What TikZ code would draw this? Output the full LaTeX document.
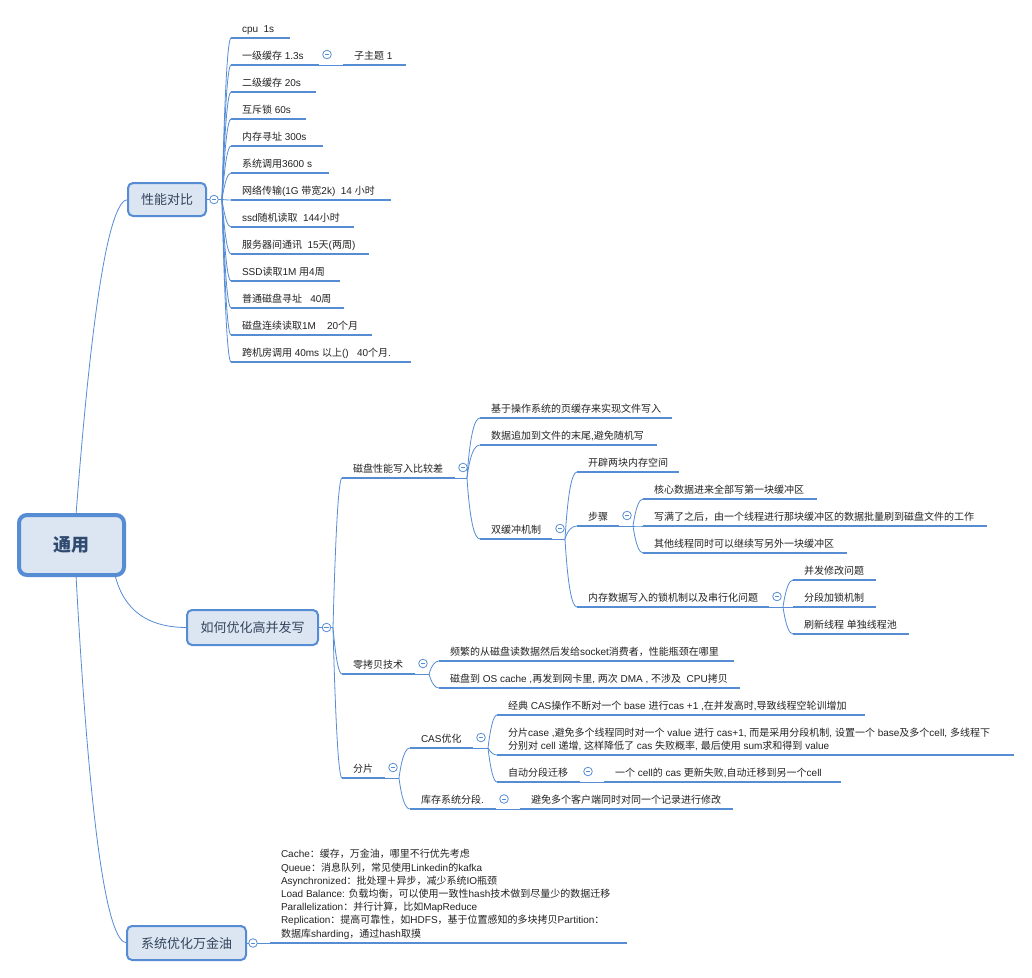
\documentclass[tikz,border=0pt]{standalone}
\usepackage{fontspec}
\setmainfont{Liberation Sans}
\newfontfamily\cjkfont{Noto Sans CJK SC}
\newfontfamily\latfont{Liberation Sans}
\XeTeXinterchartokenstate=1
\newXeTeXintercharclass\cjkcls
\count255="3000
\loop\XeTeXcharclass\count255=\cjkcls \advance\count255 by 1 \ifnum\count255<"3040 \repeat
\count255="4E00
\loop\XeTeXcharclass\count255=\cjkcls \advance\count255 by 1 \ifnum\count255<"A000 \repeat
\count255="FF00
\loop\XeTeXcharclass\count255=\cjkcls \advance\count255 by 1 \ifnum\count255<"FFF0 \repeat
\XeTeXinterchartoks 0 \cjkcls = {\cjkfont}
\XeTeXinterchartoks 4095 \cjkcls = {\cjkfont}
\XeTeXinterchartoks \cjkcls 0 = {\latfont}
\XeTeXinterchartoks \cjkcls 4095 = {\latfont}
\usetikzlibrary{calc}
\definecolor{lc}{RGB}{86,140,212}
\definecolor{bf}{RGB}{220,230,242}
\definecolor{tc}{RGB}{35,35,35}
\definecolor{t1}{RGB}{52,68,92}
\definecolor{t0}{RGB}{47,75,112}
\tikzset{
  conn/.style={draw=lc, line width=0.8pt},
  uline/.style={draw=lc, line width=2.8pt},
  leaf/.style={anchor=south west, inner xsep=11pt, inner ysep=4pt, text height=8pt, text depth=2pt,
    font=\fontsize{10pt}{13pt}\selectfont, text=tc, outer sep=0pt},
  mainbox/.style={draw=lc, fill=bf, line width=2pt, rounded corners=5pt,
    font=\fontsize{13pt}{15pt}\selectfont, text=t1, inner sep=0pt, outer sep=0pt},
  rootbox/.style={draw=lc, fill=bf, line width=4pt, rounded corners=8pt,
    font=\fontsize{18pt}{20pt}\selectfont\bfseries, text=t0, inner sep=0pt, outer sep=0pt},
  fold/.style={circle, draw=lc, fill=white, line width=0.8pt, minimum size=8.6pt, inner sep=0pt,
    path picture={\draw[lc, line width=0.7pt] ([xshift=2.2pt]path picture bounding box.west) -- ([xshift=-2.2pt]path picture bounding box.east);}}
}
% leaf: name, x start, x end, y of underline, text
\newcommand\mmleaf[5]{%
  \node[leaf] (#1) at (#2,#4) {\makebox[\dimexpr #3pt-#2pt-22pt\relax][l]{#5}};
  \draw[uline] (#1.south west) -- (#1.south east);}
% curved connector from a hub coordinate to a child anchor
\newcommand\mmcurv[2]{%
  \coordinate (cc) at ($(#1 |- #2)+(4,0)$);
  \draw[conn] (#1) .. controls ($(#1)!0.667!(cc)$) and ($(#2)!0.667!(cc)$) .. (#2);}
% hub after an underlined parent
\newcommand\mmhub[2]{%
  \coordinate (#1H) at ($(#1.south east)+(#2,0)$);
  \draw[conn] (#1.south east) -- (#1H);
  \node[fold] (#1F) at ($(#1.south east)+(8,-10.5)$) {};}
\begin{document}
\begin{tikzpicture}[x=1pt,y=-1pt]
\useasboundingbox[fill=white] (0,0) rectangle (1032,977);

% ---------- root and main topics
\node[rootbox, minimum width=105pt, minimum height=60pt] (root) at (71.5,545) {通用};
\node[mainbox, minimum width=78pt, minimum height=33pt] (perf) at (167,199.5) {性能对比};
\node[mainbox, minimum width=131pt, minimum height=35pt] (hw) at (252.5,627.5) {如何优化高并发写};
\node[mainbox, minimum width=119pt, minimum height=34pt] (sys) at (186.5,943) {系统优化万金油};

\draw[conn] ([xshift=4.5pt]root.north) .. controls (92,305) and (109.3,199.5) .. (perf.west);
\draw[conn] ([xshift=43.5pt]root.south) .. controls (123.7,610.3) and (147.7,627.5) .. (hw.west);
\draw[conn] ([xshift=4.5pt]root.south) .. controls (89.3,820.3) and (106.3,943) .. (sys.west);

% ---------- 性能对比
\coordinate (perfH) at ($(perf.east)+(16,0)$);
\draw[conn] (perf.east) -- (perfH);
\mmleaf{p1}{231}{290}{38}{cpu\ \ 1s}
\mmleaf{p2}{231}{319}{65}{一级缓存 1.3s}
\mmleaf{p2c}{343}{406}{65}{子主题 1}
\mmleaf{p3}{231}{316}{92}{二级缓存 20s}
\mmleaf{p4}{231}{306}{119}{互斥锁 60s}
\mmleaf{p5}{231}{323}{146}{内存寻址 300s}
\mmleaf{p6}{231}{329}{173}{系统调用3600 s}
\mmleaf{p7}{231}{391}{200}{网络传输(1G 带宽2k)\ \ 14 小时}
\mmleaf{p8}{231}{354}{227}{ssd随机读取\ \ 144小时}
\mmleaf{p9}{231}{369}{254}{服务器间通讯\ \ 15天(两周)}
\mmleaf{p10}{231}{340}{281}{SSD读取1M 用4周}
\mmleaf{p11}{231}{344}{308}{普通磁盘寻址\ \ \ 40周}
\mmleaf{p12}{231}{372}{335}{磁盘连续读取1M\ \ \ \ 20个月}
\mmleaf{p13}{231}{411}{362}{跨机房调用 40ms 以上()\ \ \ 40个月.}
\foreach \c in {p1,p2,p3,p4,p5,p6,p7,p8,p9,p10,p11,p12,p13} {\mmcurv{perfH}{\c.south west}}
\node[fold] (perfF) at ($(perf.east)+(8,0)$) {};
\draw[conn] (p2.south east) -- (p2c.south west);
\node[fold] (p2F) at ($(p2.south east)+(8,-10.5)$) {};

% ---------- 如何优化高并发写
\coordinate (hwH) at ($(hw.east)+(15,0)$);
\draw[conn] (hw.east) -- (hwH);
\mmleaf{ds}{342}{455}{478}{磁盘性能写入比较差}
\mmleaf{zc}{342}{415}{674}{零拷贝技术}
\mmleaf{fp}{342}{385}{778}{分片}
\foreach \c in {ds,zc,fp} {\mmcurv{hwH}{\c.south west}}
\node[fold] (hwF) at ($(hw.east)+(8.5,0)$) {};

% 磁盘性能写入比较差
\mmleaf{a1}{480}{672}{418}{基于操作系统的页缓存来实现文件写入}
\mmleaf{a2}{480}{657}{445}{数据追加到文件的末尾,避免随机写}
\mmleaf{a3}{480}{552}{539}{双缓冲机制}
\mmhub{ds}{12}
\foreach \c in {a1,a2,a3} {\mmcurv{dsH}{\c.south west}}

% 双缓冲机制
\mmleaf{b1}{577}{679}{472}{开辟两块内存空间}
\mmleaf{b2}{577}{619}{526}{步骤}
\mmleaf{b3}{577}{769}{607}{内存数据写入的锁机制以及串行化问题}
\mmhub{a3}{13}
\foreach \c in {b1,b2,b3} {\mmcurv{a3H}{\c.south west}}

% 步骤
\mmleaf{c1}{643}{817}{499}{核心数据进来全部写第一块缓冲区}
\mmleaf{c2}{643}{987}{526}{写满了之后，由一个线程进行那块缓冲区的数据批量刷到磁盘文件的工作}
\mmleaf{c3}{643}{847}{553}{其他线程同时可以继续写另外一块缓冲区}
\mmhub{b2}{14}
\foreach \c in {c1,c2,c3} {\mmcurv{b2H}{\c.south west}}

% 内存数据写入
\mmleaf{d1}{793}{876}{580}{并发修改问题}
\mmleaf{d2}{793}{876}{607}{分段加锁机制}
\mmleaf{d3}{793}{909}{634}{刷新线程 单独线程池}
\mmhub{b3}{14}
\foreach \c in {d1,d2,d3} {\mmcurv{b3H}{\c.south west}}

% 零拷贝技术
\mmleaf{e1}{439}{734}{661}{频繁的从磁盘读数据然后发给socket消费者，性能瓶颈在哪里}
\mmleaf{e2}{439}{740}{688}{磁盘到 OS cache ,再发到网卡里, 两次 DMA , 不涉及\ \ CPU拷贝}
\mmhub{zc}{14}
\foreach \c in {e1,e2} {\mmcurv{zcH}{\c.south west}}

% 分片
\mmleaf{cas}{410}{473}{748}{CAS优化}
\mmleaf{kc}{410}{496}{809}{库存系统分段.}
\mmhub{fp}{14}
\foreach \c in {cas,kc} {\mmcurv{fpH}{\c.south west}}

\mmleaf{f1}{497}{865}{715}{经典 CAS操作不断对一个 base 进行cas +1 ,在并发高时,导致线程空轮训增加}
\mmleaf{f2}{497}{1014}{755}{\begin{tabular}[b]{@{}l@{}}分片case ,避免多个线程同时对一个 value 进行 cas+1, 而是采用分段机制, 设置一个 base及多个cell, 多线程下\\分别对 cell 递增, 这样降低了 cas 失败概率, 最后使用 sum求和得到 value\end{tabular}}
\mmleaf{f3}{497}{580}{782}{自动分段迁移}
\mmhub{cas}{15}
\foreach \c in {f1,f2,f3} {\mmcurv{casH}{\c.south west}}

\mmleaf{g1}{604}{841}{782}{一个 cell的 cas 更新失败,自动迁移到另一个cell}
\draw[conn] (f3.south east) -- (g1.south west);
\node[fold] (f3F) at ($(f3.south east)+(8,-10.5)$) {};

\mmleaf{h1}{520}{733}{809}{避免多个客户端同时对同一个记录进行修改}
\draw[conn] (kc.south east) -- (h1.south west);
\node[fold] (kcF) at ($(kc.south east)+(8,-10)$) {};

% ---------- 系统优化万金油
\mmleaf{s1}{270}{627}{943}{\fontsize{10pt}{13.2pt}\selectfont\begin{tabular}[b]{@{}l@{}}Cache：缓存，万金油，哪里不行优先考虑\\Queue：消息队列，常见使用Linkedin的kafka\\Asynchronized：批处理＋异步，减少系统IO瓶颈\\Load Balance: 负载均衡，可以使用一致性hash技术做到尽量少的数据迁移\\Parallelization：并行计算，比如MapReduce\\Replication：提高可靠性，如HDFS，基于位置感知的多块拷贝Partition：\\数据库sharding，通过hash取摸\end{tabular}}
\draw[conn] (sys.east) -- (s1.south west);
\node[fold] (sysF) at ($(sys.east)+(7,0)$) {};
\end{tikzpicture}
\end{document}
